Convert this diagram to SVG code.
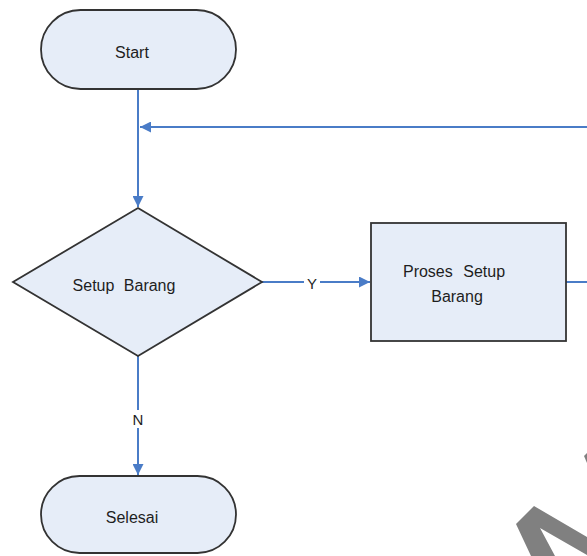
<svg xmlns="http://www.w3.org/2000/svg" width="587" height="556" viewBox="0 0 587 556">
<defs>
<style>
.node{fill:#e6edf8;stroke:#333;stroke-width:1.8}
.lbl{font-family:"Liberation Sans",Arial,sans-serif;font-size:16px;fill:#1e1e1e;text-anchor:middle}
.cl{font-size:15px}
.conn{stroke:#4a7cc7;stroke-width:2;fill:none}
</style>
<marker id="ah" viewBox="0 0 10 10" refX="10" refY="5" markerWidth="15" markerHeight="11" markerUnits="userSpaceOnUse" orient="auto">
<path d="M0,0 L10,5 L0,10 z" fill="#4a7cc7"/>
</marker>
</defs>
<rect width="587" height="556" fill="#fff"/>
<g id="connectors">
<path class="conn" d="M138,89 V207" marker-end="url(#ah)"/>
<path class="conn" d="M587,127 H140" marker-end="url(#ah)"/>
<path class="conn" d="M262,282 H370" marker-end="url(#ah)"/>
<path class="conn" d="M566,282 H587"/>
<path class="conn" d="M138,356 V475" marker-end="url(#ah)"/>
<rect x="304" y="273" width="16" height="18" fill="#fff"/>
<text class="lbl cl" x="312" y="289">Y</text>
<rect x="130" y="410" width="16" height="18" fill="#fff"/>
<text class="lbl cl" x="138" y="425">N</text>
</g>
<g id="start">
<rect class="node" x="41" y="10" width="195" height="79" rx="39.5"/>
<text class="lbl" x="132" y="58">Start</text>
</g>
<g id="setup-barang">
<polygon class="node" points="138,208 262,282 138,356 13,282"/>
<text class="lbl" x="124" y="291" style="word-spacing:5px">Setup Barang</text>
</g>
<g id="proses-setup-barang">
<rect class="node" x="371" y="223" width="195" height="118"/>
<text class="lbl" x="454" y="277" style="word-spacing:6px">Proses Setup</text>
<text class="lbl" x="457" y="302">Barang</text>
</g>
<g id="selesai">
<rect class="node" x="41" y="476" width="195" height="77" rx="38.5"/>
<text class="lbl" x="132" y="523">Selesai</text>
</g>
<g id="watermark" fill="#808080">
<polygon points="516,524 534,506 587,537 587,555 540,528 555,556 531,556"/>
<polygon points="584,456 587,453 587,463"/>
</g>
</svg>
